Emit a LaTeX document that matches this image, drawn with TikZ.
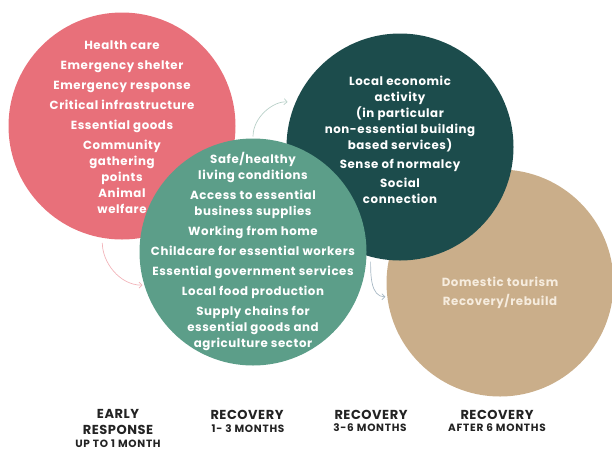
\documentclass[tikz,border=0pt]{standalone}
\usepackage{fontspec}
\setmainfont{Poppins}
\usetikzlibrary{arrows.meta}
\definecolor{earlyred}{RGB}{232, 112, 122}
\definecolor{recgreen}{RGB}{92, 158, 137}
\definecolor{recteal}{RGB}{28, 76, 76}
\definecolor{rectan}{RGB}{202, 174, 138}
\definecolor{tancream}{RGB}{246, 236, 222}
\definecolor{labelgray}{RGB}{35, 35, 35}
\definecolor{pinkflow}{RGB}{242, 180, 186}
\definecolor{sageflow}{RGB}{184, 208, 200}
\definecolor{blueflow}{RGB}{168, 184, 196}

\begin{document}
\begin{tikzpicture}[x=1pt, y=-1pt,
    phase/.style={circle, minimum size=\diam, inner sep=0pt, outer sep=0pt},
    itemtext/.style={align=center, text=white, inner sep=0pt,
      font=\fontsize{11.8}{16}\selectfont\bfseries\addfontfeatures{LetterSpace=5}},
    stagetitle/.style={align=center, text=labelgray, inner sep=0pt,
      font=\fontsize{13}{15.5}\selectfont\bfseries\addfontfeatures{LetterSpace=4}},
    stagesub/.style={align=center, text=labelgray, inner sep=0pt,
      font=\fontsize{10.5}{11}\selectfont\bfseries\addfontfeatures{LetterSpace=7}},
    flow/.style={-{Straight Barb[length=3pt, width=6pt]}, line width=0.7pt}]
    \def\diam{227pt}
    \useasboundingbox (0,0) rectangle (612,451);

    % Circles, back to front
    \node[phase, fill=rectan] (tan) at (500,283) {};
    \node[phase, fill=recteal] (teal) at (400,147) {};
    \node[phase, fill=earlyred] (red) at (122,126) {};
    \node[phase, fill=recgreen] (green) at (253,252) {};

    % Early response
    \node[itemtext] (redtxt) at ([yshift=-1pt]red.center)
      {Health care\\[4pt] Emergency shelter\\[4pt] Emergency response\\[4pt]
       Critical infrastructure\\[4pt] Essential goods\\[4pt]
       Community\\ gathering\\ points\\ Animal\\ welfare};

    % Recovery 1-3 months
    \node[itemtext] (greentxt) at (green.center)
      {Safe/healthy\\ living conditions\\[4pt] Access to essential\\ business supplies\\[4pt]
       Working from home\\[4pt] Childcare for essential workers\\[4pt]
       Essential government services\\[4pt] Local food production\\[4pt]
       Supply chains for\\ essential goods and\\ agriculture sector};

    % Recovery 3-6 months
    \node[itemtext] (tealtxt) at ([yshift=7.5pt]teal.center)
      {Local economic\\ activity\\ (in particular\\ non-essential building\\ based services)\\[3pt]
       Sense of normalcy\\[3pt] Social\\ connection};

    % Recovery after 6 months
    \node[itemtext, text=tancream] (tantxt) at ([yshift=-9.5pt]tan.center)
      {Domestic tourism\\[3pt] Recovery/rebuild};

    % Flow arrows
    \draw[flow, pinkflow, shorten <=5pt, shorten >=2pt] (red.260) to[out=-90, in=180] (green.197);
    \draw[flow, sageflow, shorten <=2pt, shorten >=8pt] (green.90) to[out=90, in=175] (teal.157);
    \draw[flow, blueflow, shorten <=5pt, shorten >=2pt] (teal.255) to[out=-90, in=180] (tan.187);

    % Stage labels
    \node[stagetitle] (early) at (118,422) {EARLY\\ RESPONSE};
    \node[stagesub] (earlysub) at (118,444) {UP TO 1 MONTH};
    \node[stagetitle] (recone) at (247,415) {RECOVERY};
    \node[stagesub] (reconesub) at (248,429) {1- 3 MONTHS};
    \node[stagetitle] (rectwo) at (371,415) {RECOVERY};
    \node[stagesub] (rectwosub) at (370,428) {3-6 MONTHS};
    \node[stagetitle] (recthree) at (497,415) {RECOVERY};
    \node[stagesub] (recthreesub) at (497,428) {AFTER 6 MONTHS};
\end{tikzpicture}
\end{document}
